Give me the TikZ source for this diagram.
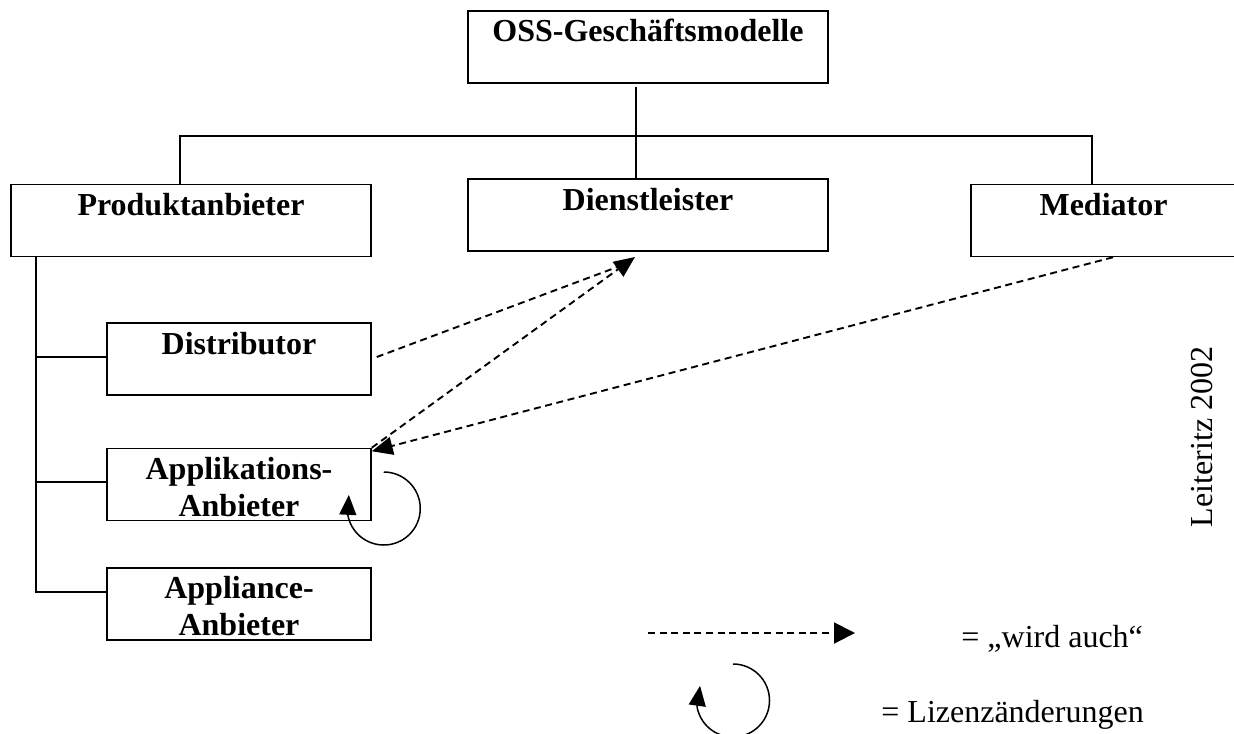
\documentclass[tikz,border=0pt]{standalone}
\usepackage{fontspec}
\setmainfont{Liberation Serif}
\usetikzlibrary{arrows.meta}
\newcommand\twoline[2]{\rule{0pt}{13.5pt}#1\\\rule{0pt}{13.5pt}#2}
\begin{document}
\begin{tikzpicture}[x=0.5pt,y=-0.5pt,
  box/.style={draw, line width=0.75pt, inner sep=0pt, align=center, minimum height=36pt,
    font=\fontsize{16}{18.5}\selectfont\bfseries},
  wide/.style={minimum width=180pt},
  narrow/.style={minimum width=132pt},
  conn/.style={line width=0.75pt},
  dashedline/.style={line width=0.95pt, dash pattern=on 3.5pt off 2.3pt},
  dashedarrow/.style={dashedline, -{Triangle[length=10.5pt,width=9pt]}},
  legarrow/.style={dashedline, -{Triangle[length=10.5pt,width=10.5pt]}},
  selfloop/.style={line width=0.75pt, -{Triangle[length=10pt,width=8.5pt]}},
  plain/.style={font=\fontsize{16}{18.5}\selectfont, inner sep=0pt}]
\useasboundingbox (0,0) rectangle (1234,733);
\clip (0,0) rectangle (1234,733);

% boxes
\node[box, wide] (oss) at (648,47) {\twoline{OSS-Geschäftsmodelle}{}};
\node[box, wide] (prod) at (191,220.5) {\twoline{Produktanbieter}{}};
\node[box, wide] (dienst) at (648,215) {\twoline{Dienstleister}{}};
\node[box, minimum width=132.5pt] (med) at (1103.5,220.5) {\twoline{Mediator}{}};
\node[box, narrow] (dist) at (239,359) {\twoline{Distributor}{}};
\node[box, narrow] (appl) at (239,484.5) {\twoline{Applikations-}{Anbieter}};
\node[box, narrow] (appc) at (239,604) {\twoline{Appliance-}{Anbieter}};

% tree
\coordinate (ossdrop) at (636,87);
\coordinate (hl) at (180,136);
\coordinate (hr) at (1092,136);
\draw[conn] (ossdrop) -- (dienst.north -| ossdrop);
\draw[conn] (prod.north -| hl) -- (hl) -- (hr) -- (med.north -| hr);

\coordinate (b1) at (36,357);
\coordinate (b2) at (36,482);
\coordinate (b3) at (36,592);
\draw[conn] (prod.south -| b1) -- (b3) -- (appc.west |- b3);
\draw[conn] (b1) -- (dist.west |- b1);
\draw[conn] (b2) -- (appl.west |- b2);

% "wird auch" relations
\coordinate (dtip) at (635,257);
\coordinate (dend) at (620,266);
\draw[dashedline] ([xshift=2.5pt,yshift=1pt]dist.east) -- (dend);
\draw[dashedarrow] (appl.north east) -- (dtip);
\draw[dashedarrow] ([xshift=4.75pt]med.south) -- ([yshift=-1.75pt]appl.north east);

% licence change loop
\draw[selfloop] ([xshift=6pt,yshift=6.25pt]appl.east) arc[start angle=90, end angle=-170, radius=18.25pt] -- ++(1,-20);

% author
\node[plain, rotate=90, anchor=base] (auth) at (1212,437) {Leiteritz 2002};

% legend
\coordinate (la) at (648,633);
\coordinate (lb) at (855,633);
\draw[legarrow] (la) -- (lb);
\node[plain, anchor=base west] (t1) at (961,647) {= „wird auch“};
\coordinate (lc) at (733,664);
\draw[selfloop] (lc) arc[start angle=90, end angle=-170, radius=18.25pt] -- ++(3,-21);
\node[plain, anchor=base west] (t2) at (881,722) {= Lizenzänderungen};
\end{tikzpicture}
\end{document}
